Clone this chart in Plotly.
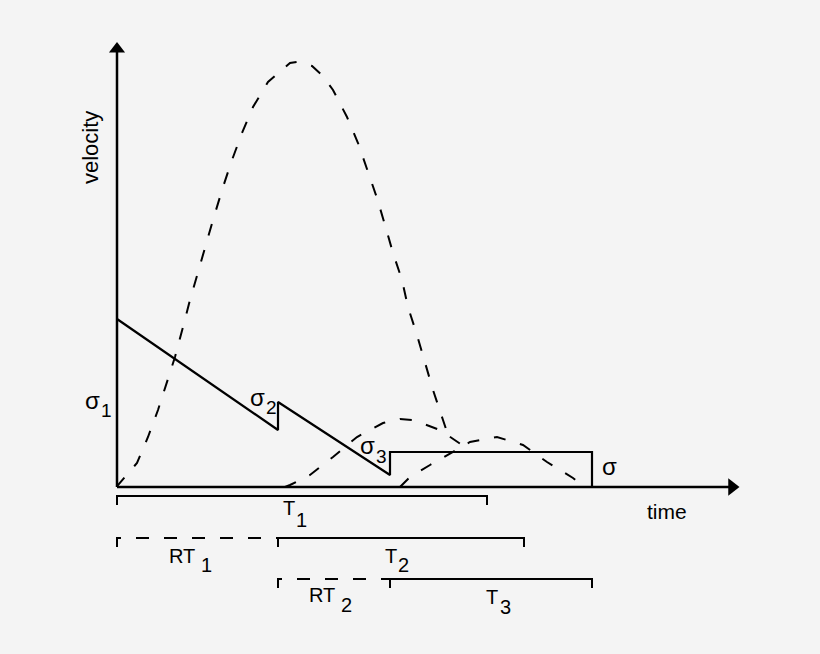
import plotly.graph_objects as go

# ---- data (time, velocity), origin at axis corner ----
primary_t = [0, 1, 20, 31, 41, 50, 58, 66, 73, 96, 106, 115, 125, 136, 151, 173, 180,
             195, 205, 216, 230, 241, 251, 260, 268, 276, 285, 291, 300, 308, 316, 326, 329]
primary_v = [0, 2, 24, 50, 77, 104, 130, 160, 187, 267, 300, 327, 354, 380, 405, 424, 425,
             421, 412, 397, 370, 344, 315, 289, 262, 234, 207, 180, 152, 124, 97, 67, 58]

second_t = [168, 173, 193, 216, 240, 266, 283, 296, 323, 345]
second_v = [0, 2, 12, 30, 50, 64, 68, 67, 57, 42]

third_t = [283, 293, 313, 330, 353, 380, 406, 430, 456, 465]
third_v = [0, 10, 22, 32, 45, 50, 42, 25, 9, 2]

criterion_t = [0, 161, 161, 273, 273, 475, 475]
criterion_v = [168, 57, 85, 12, 35, 35, 0]

# duration intervals (start, end)
T1 = (0, 370)
RT1 = (0, 161)
T2 = (161, 407)
RT2 = (161, 273)
T3 = (273, 475)

axis_x_end = 623
axis_y_end = 445

BLACK = "#000000"
BG = "#f4f4f4"
FONT = "Liberation Sans, Arial, sans-serif"

fig = go.Figure()

def line(x, y, width=2.0, dash=None):
    fig.add_trace(go.Scatter(x=x, y=y, mode="lines", hoverinfo="skip",
                             line=dict(color=BLACK, width=width, dash=dash),
                             showlegend=False))

DASH = "12px,15px"

# axes
line([0, 0], [0, axis_y_end - 8], width=2.5)
line([0, axis_x_end - 8], [0, 0], width=2.5)
fig.add_trace(go.Scatter(x=[0], y=[axis_y_end - 7], mode="markers", hoverinfo="skip",
                         marker=dict(symbol="triangle-up", size=14, color=BLACK),
                         showlegend=False))
fig.add_trace(go.Scatter(x=[axis_x_end - 8], y=[0], mode="markers", hoverinfo="skip",
                         marker=dict(symbol="triangle-right", size=15, color=BLACK),
                         showlegend=False))

# velocity profiles
line(primary_t, primary_v, dash=DASH)
line(second_t, second_v, dash=DASH)
line(third_t, third_v, dash=DASH)

# criterion
line(criterion_t, criterion_v, width=2.2)

# duration brackets
TICK = 9
def bracket(iv, level, dashed=False):
    a, b = iv
    if dashed:
        line([a, a, b], [level - TICK, level, level], dash="13px,15px")
    else:
        line([a, a, b, b], [level - TICK, level, level, level - TICK])

bracket(T1, -9)
bracket(RT1, -51, dashed=True)
bracket(T2, -51)
bracket(RT2, -92, dashed=True)
bracket(T3, -92)

def label(x, y, text, size=20, angle=0):
    fig.add_annotation(x=x, y=y, xref="x", yref="y", text=text, showarrow=False,
                       textangle=angle, xanchor="center", yanchor="middle",
                       font=dict(family=FONT, size=size, color=BLACK))

label(-27, 339, "velocity", size=22, angle=-90)
label(550, -24, "time", size=21)

# duration labels: main text + subscript
label(172, -21, "T")
label(184, -33, "1")
label(65, -69, "RT")
label(89, -78, "1")
label(274, -69, "T")
label(286, -78, "2")
label(205, -108, "RT")
label(229, -118, "2")
label(375, -110, "T")
label(388, -120, "3")

# sigma labels
label(-25, 87, "σ", size=24)
label(-11, 77, "1", size=19)
label(140, 90, "σ", size=24)
label(154, 80, "2", size=19)
label(250, 42, "σ", size=24)
label(264, 31, "3", size=19)
label(492, 21, "σ", size=24)

fig.update_layout(
    width=820, height=654,
    margin=dict(l=0, r=0, t=0, b=0),
    paper_bgcolor=BG, plot_bgcolor=BG,
    xaxis=dict(range=[-117, 703], visible=False, fixedrange=True),
    yaxis=dict(range=[-167, 487], visible=False, fixedrange=True),
    showlegend=False,
)

fig.write_html(
    "out.html",
    config={"displayModeBar": False, "staticPlot": True},
    post_script="document.body.style.margin='0';document.body.style.background='#f4f4f4';",
)
